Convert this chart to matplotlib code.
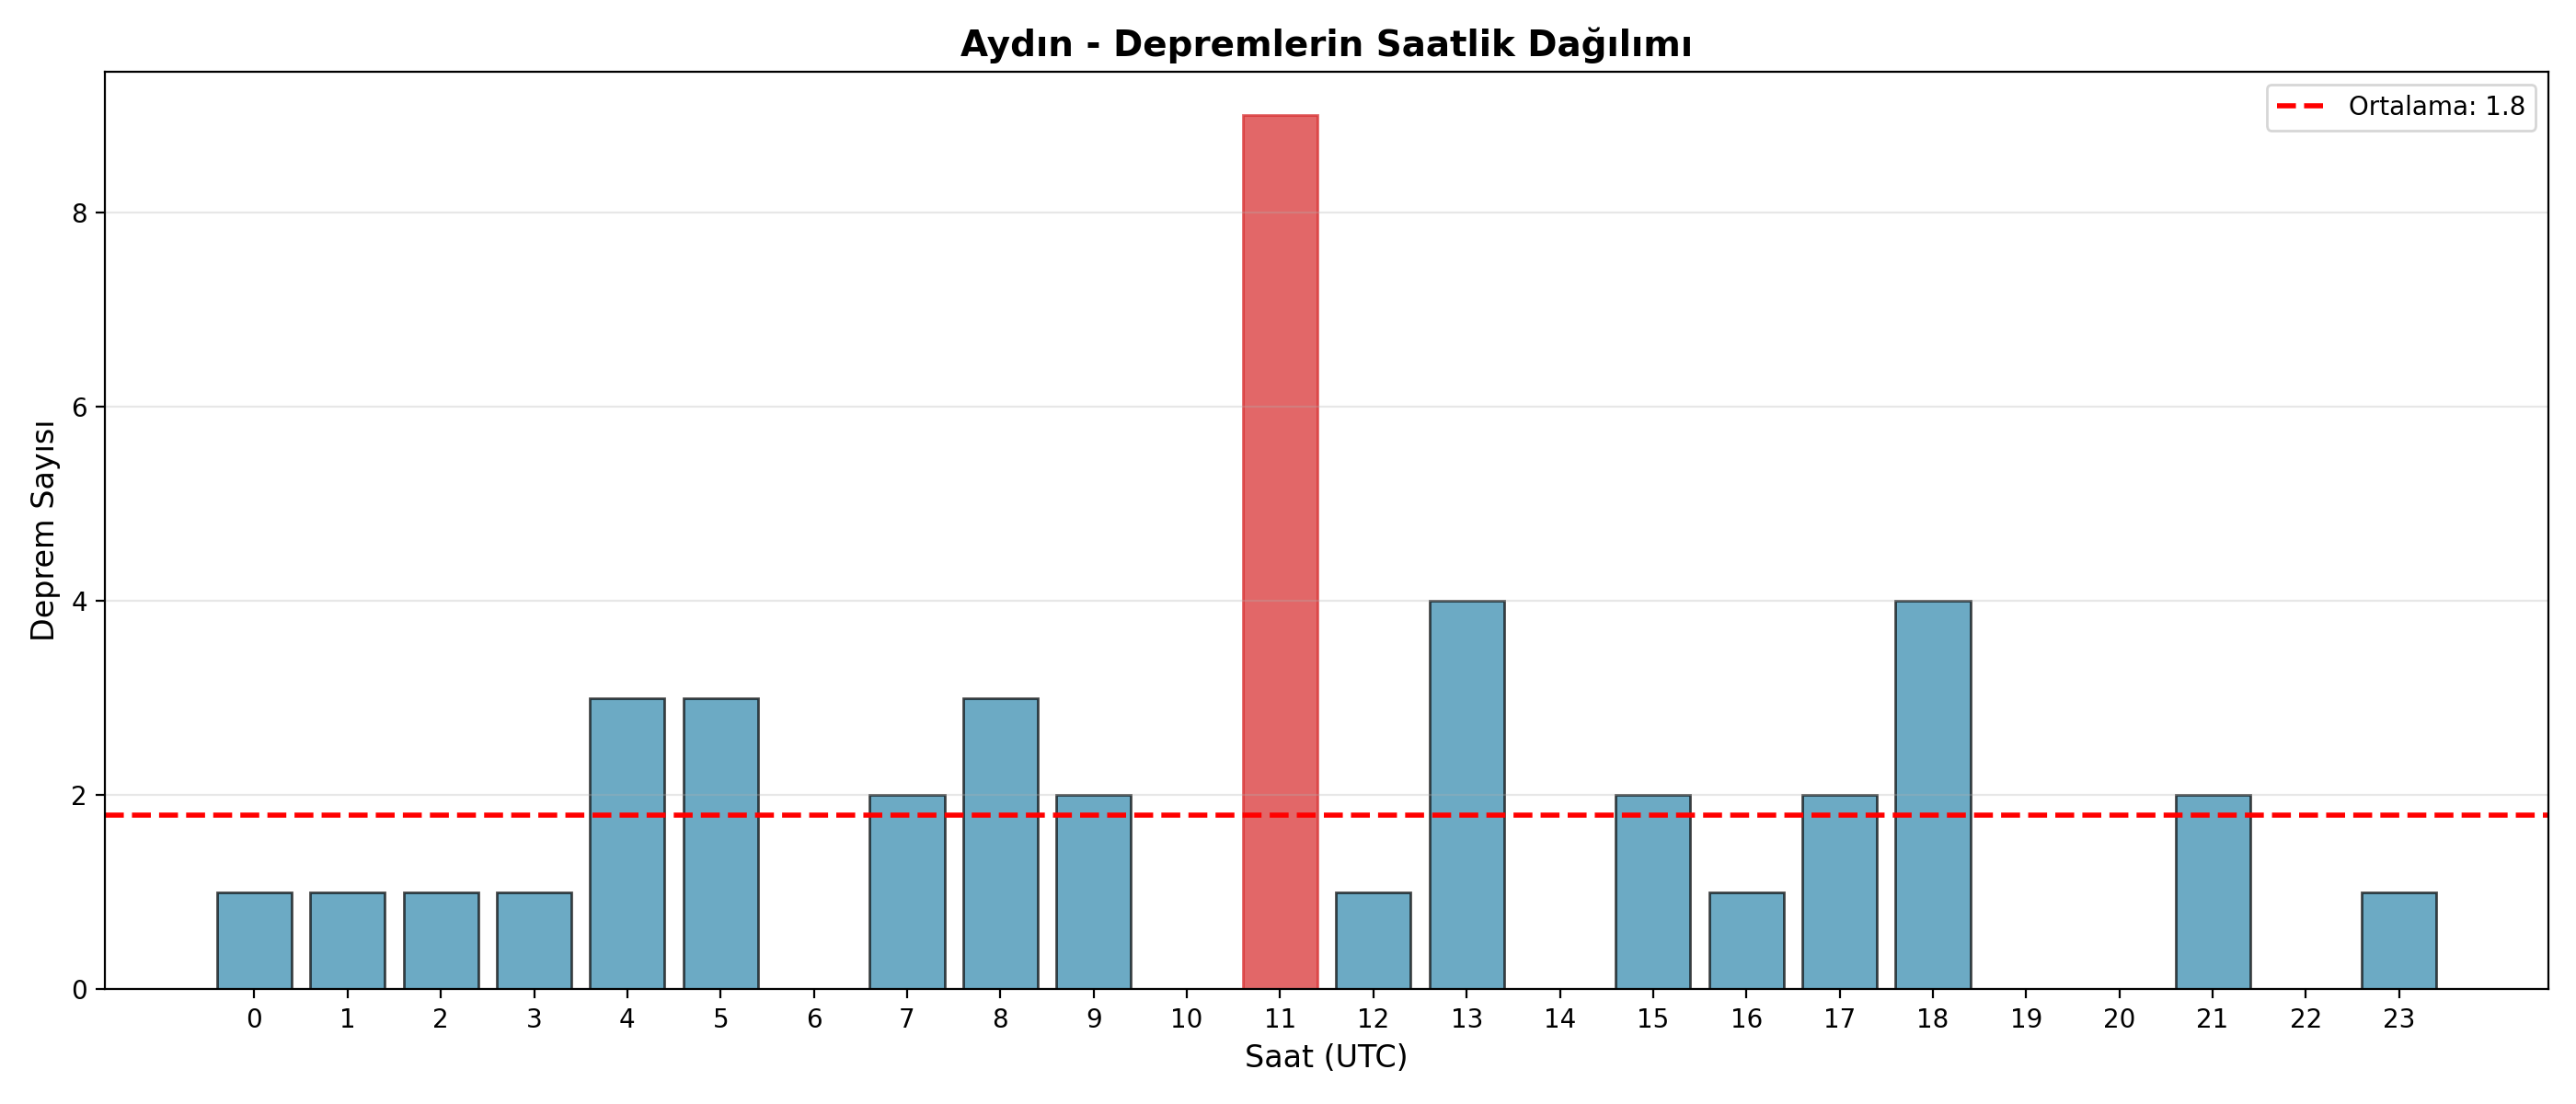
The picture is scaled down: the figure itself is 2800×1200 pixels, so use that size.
import numpy as np
import matplotlib
matplotlib.use("Agg")
import matplotlib.pyplot as plt

saatler = list(range(24))
deprem_sayisi = [1, 1, 1, 1, 3, 3, 0, 2, 3, 2, 0, 9, 1, 4, 0, 2, 1, 2, 4, 0, 0, 2, 0, 1]
ortalama = np.mean(deprem_sayisi)

fig, ax = plt.subplots(figsize=(14, 6))
bars = ax.bar(saatler, deprem_sayisi, color="#2E86AB", edgecolor="black", alpha=0.7)
# en yogun saat kirmizi
bars[int(np.argmax(deprem_sayisi))].set_color("#d62728")

ax.axhline(ortalama, color="red", linestyle="--", linewidth=2, label="Ortalama: %.1f" % ortalama)

ax.set_xticks(saatler)
ax.set_xlim(-1.6, 24.6)
ax.set_xlabel("Saat (UTC)", fontsize=12)
ax.set_ylabel("Deprem Sayısı", fontsize=12)
ax.set_title("Aydın - Depremlerin Saatlik Dağılımı", fontsize=14, fontweight="bold")
ax.grid(axis="y", alpha=0.3)
ax.legend(loc="upper right")

plt.tight_layout()
plt.savefig("out.png", dpi=200)
